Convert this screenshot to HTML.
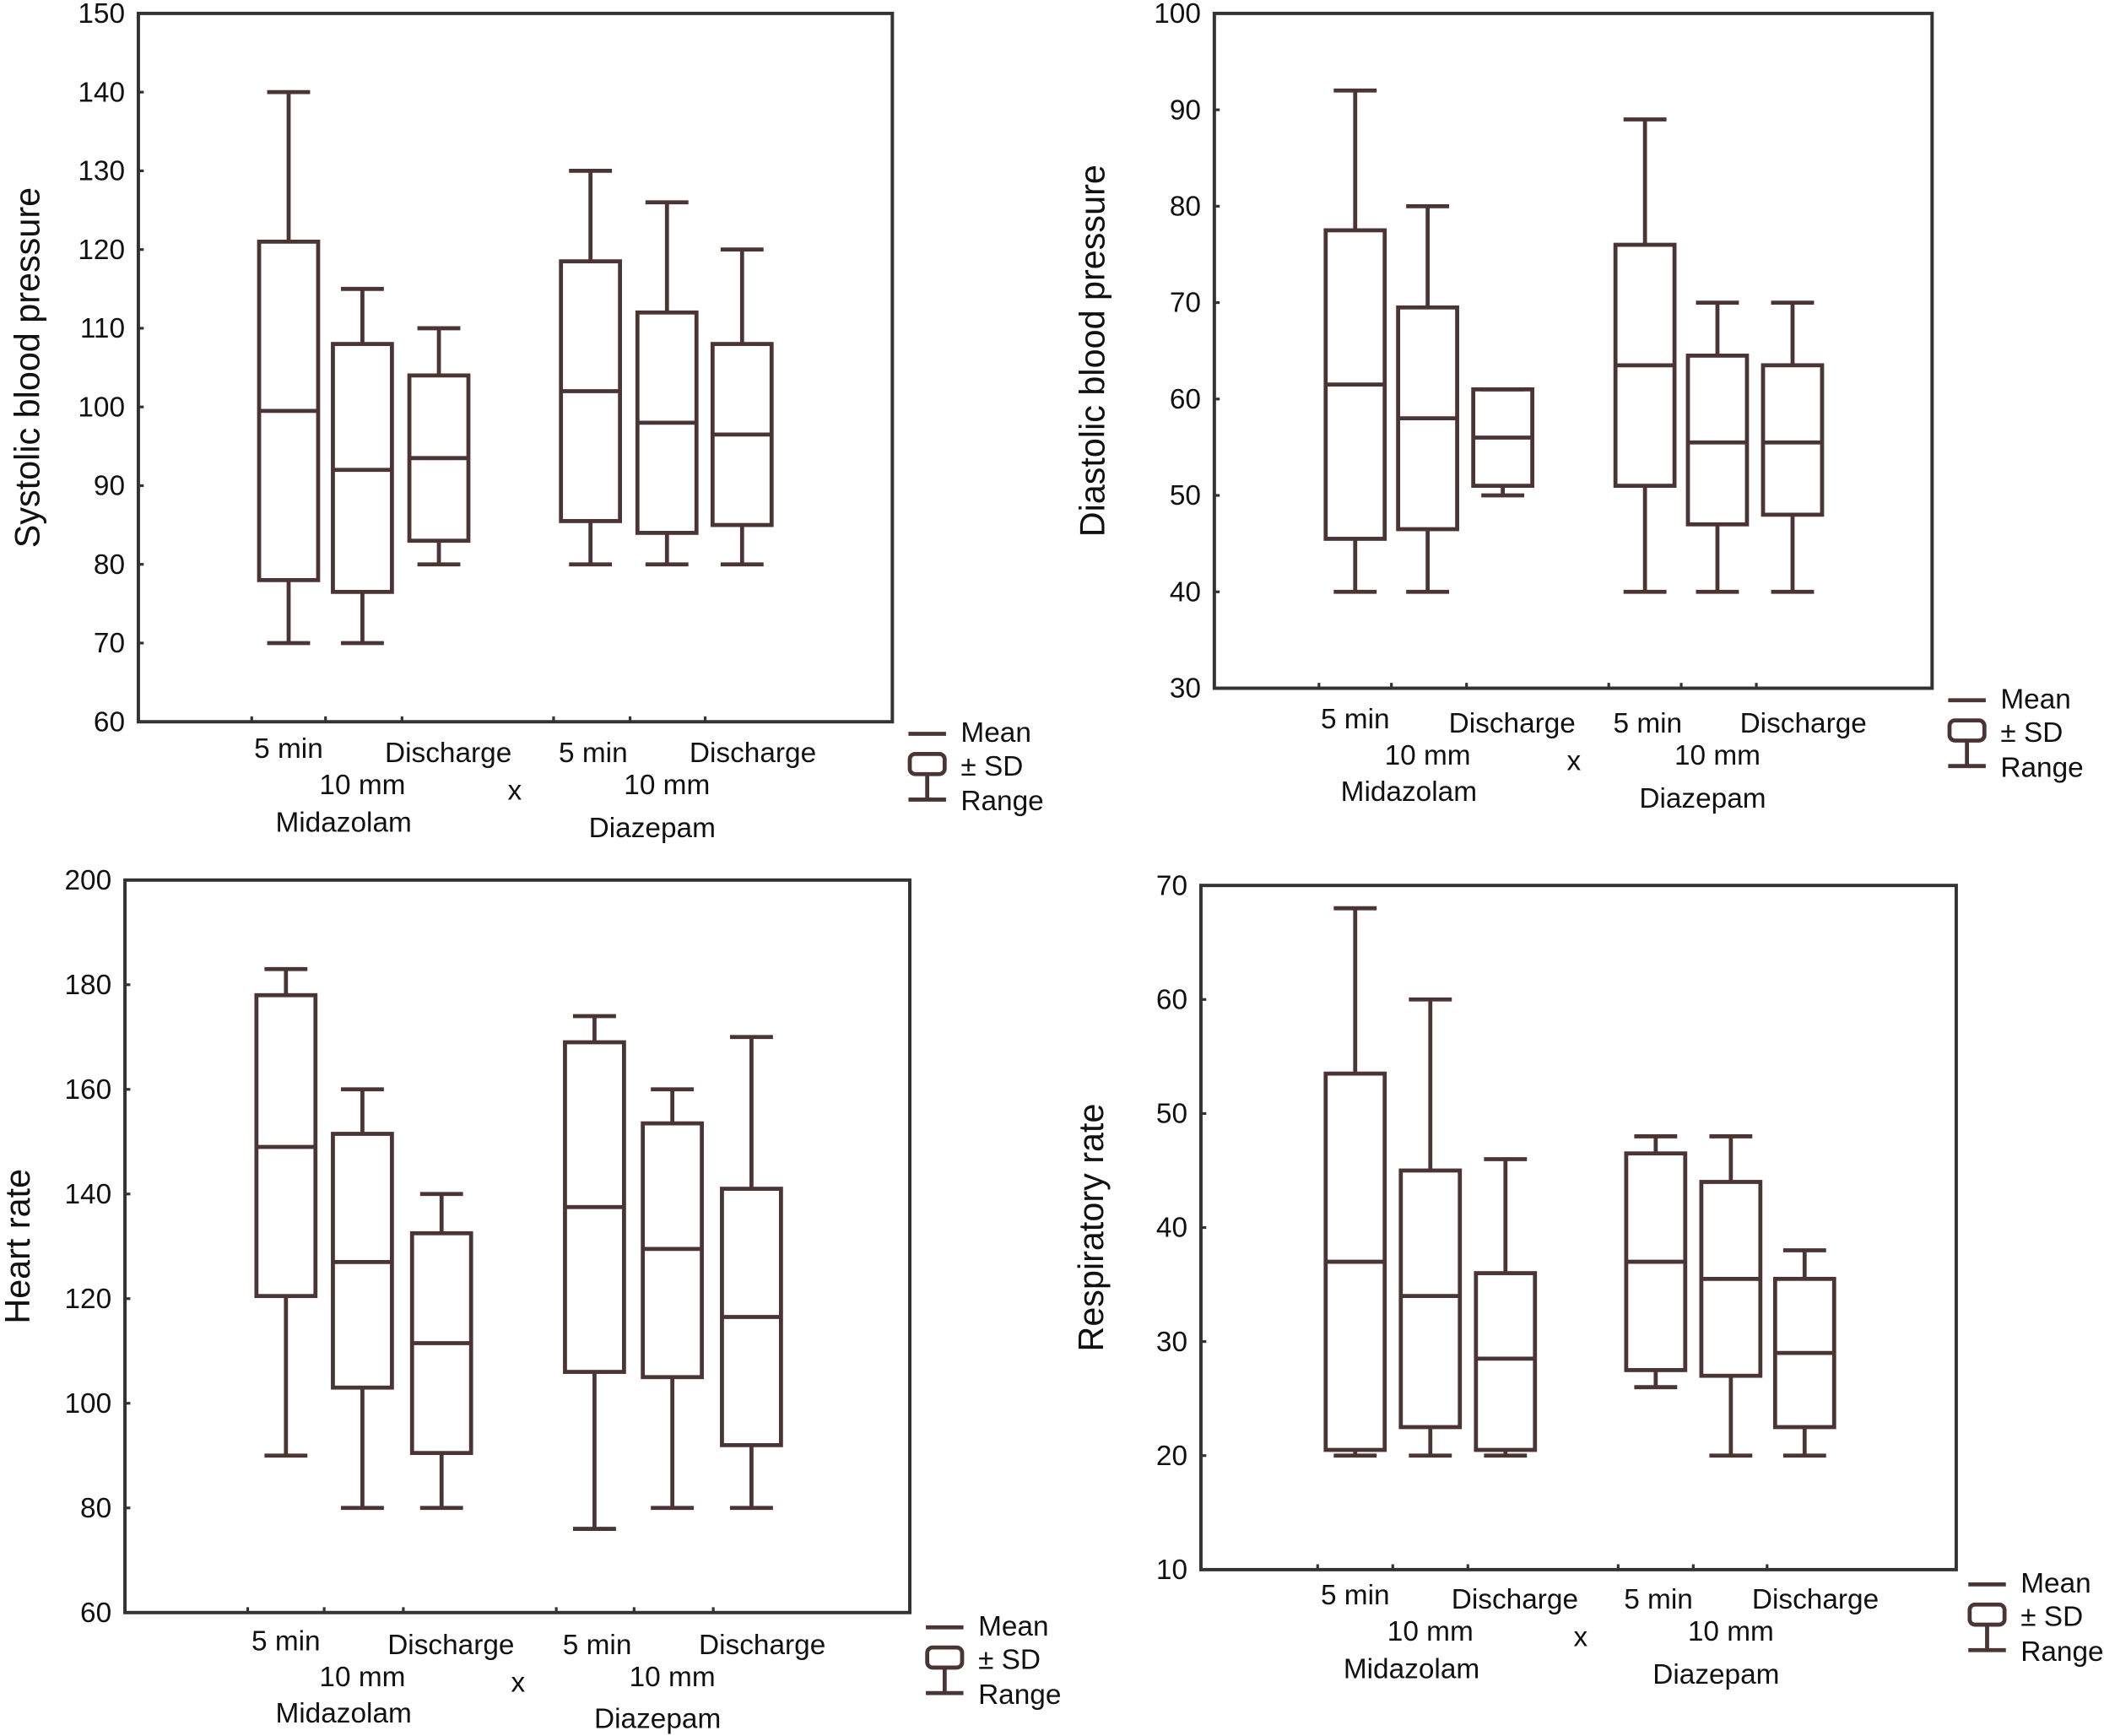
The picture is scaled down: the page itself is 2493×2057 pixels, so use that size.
<!DOCTYPE html>
<html><head><meta charset="utf-8"><style>
html,body{margin:0;padding:0;background:#fff}
svg{display:block}
text{font-family:"Liberation Sans",sans-serif;fill:#111}
</style></head><body>
<svg id="chart" width="2493" height="2057" viewBox="0 0 1568 1294" xmlns="http://www.w3.org/2000/svg"></svg>
<script>
// Panel data: [min, max, sdLow, sdHigh, mean]
const categories = ["Midazolam 5 min","Midazolam 10 mm","Midazolam Discharge","Diazepam 5 min","Diazepam 10 mm","Diazepam Discharge"];
const systolic = [[70,140,78,121,99.5],[70,115,76.5,108,92],[80,110,83,104,93.5],[80,130,85.5,118.5,102],[80,126,84,112,98],[80,120,85,108,96.5]];
const diastolic = [[40,92,45.5,77.5,61.5],[40,80,46.5,69.5,58],[50,61,51,61,56],[40,89,51,76,63.5],[40,70,47,64.5,55.5],[40,70,48,63.5,55.5]];
const heartRate = [[90,183,120.5,178,149],[80,160,103,151.5,127],[80,140,90.5,132.5,111.5],[76,174,106,169,137.5],[80,160,105,153.5,129.5],[80,170,92,141,116.5]];
const respRate = [[20,68,20.5,53.5,37],[20,60,22.5,45,34],[20,46,20.5,36,28.5],[26,48,27.5,46.5,37],[20,48,27,44,35.5],[20,38,22.5,35.5,29]];
const sysTicks = [60,70,80,90,100,110,120,130,140,150];
const diaTicks = [30,40,50,60,70,80,90,100];
const hrTicks = [60,80,100,120,140,160,180,200];
const rrTicks = [10,20,30,40,50,60,70];

const panels = [
 {name:"systolic",title:"Systolic blood pressure",data:systolic,ticks:sysTicks,x0:103,x1:665,y0:10,y1:538,titleX:20,xs:[215,270,327,440,497,553],lab:[558,585,613,617],legX:677,legY:546},
 {name:"diastolic",title:"Diastolic blood pressure",data:diastolic,ticks:diaTicks,x0:905,x1:1440,y0:10,y1:513,titleX:814,xs:[1010,1064,1120,1226,1280,1336],lab:[536,563,590,595],legX:1452,legY:521},
 {name:"heart-rate",title:"Heart rate",data:heartRate,ticks:hrTicks,x0:93,x1:678,y0:656,y1:1202,titleX:13,xs:[213,270,329,443,501,560],lab:[1223,1250,1277,1281],legX:690,legY:1212},
 {name:"respiratory-rate",title:"Respiratory rate",data:respRate,ticks:rrTicks,x0:895,x1:1458,y0:660,y1:1170,titleX:813,xs:[1010,1066,1122,1234,1290,1345],lab:[1189,1216,1244,1248],legX:1467,legY:1180}
];
const NS="http://www.w3.org/2000/svg";
const svg=document.getElementById('chart');
const COL="#4a3434";
function mk(tag,attrs,parent){const e=document.createElementNS(NS,tag);for(const k in attrs)e.setAttribute(k,attrs[k]);parent.appendChild(e);return e;}
panels.forEach(p=>{
  const g=mk('g',{},svg);
  
  
  const lo=p.ticks[0],hi=p.ticks[p.ticks.length-1];
  const y=v=>p.y1-(v-lo)/(hi-lo)*(p.y1-p.y0);
  const frame=mk('rect',{x:p.x0,y:p.y0,width:p.x1-p.x0,height:p.y1-p.y0,fill:'none',stroke:'#333','stroke-width':2.5},g);
  
  
  p.ticks.forEach(t=>{
    const tx=mk('text',{x:p.x0-10,y:y(t)+7,'text-anchor':'end','font-size':21},g);
    tx.textContent=t;
    
    
    mk('line',{x1:p.x0,x2:p.x0+4,y1:y(t),y2:y(t),stroke:'#333','stroke-width':2},g);
  });
  const step=(p.xs[1]-p.xs[0]);
  for(let i=0;i<p.xs.length;i++){mk('line',{x1:p.xs[i]-step/2,x2:p.xs[i]-step/2,y1:p.y1,y2:p.y1-4,stroke:'#333','stroke-width':2},g);}
  const yt=mk('text',{x:0,y:0,'text-anchor':'middle','font-size':26,transform:`translate(${p.titleX+9},${(p.y0+p.y1)/2}) rotate(-90)`},g);
  yt.textContent=p.title;
  
  
  p.data.forEach((d,i)=>{
    const cx=p.xs[i],hw=22,cw=16;
    const bg=mk('g',{stroke:COL,'stroke-width':3,fill:'none'},g);
    
    
    mk('line',{x1:cx,x2:cx,y1:y(d[0]),y2:y(d[2])},bg);
    mk('line',{x1:cx,x2:cx,y1:y(d[3]),y2:y(d[1])},bg);
    mk('line',{x1:cx-cw,x2:cx+cw,y1:y(d[0]),y2:y(d[0])},bg);
    mk('line',{x1:cx-cw,x2:cx+cw,y1:y(d[1]),y2:y(d[1])},bg);
    mk('rect',{x:cx-hw,y:y(d[3]),width:2*hw,height:y(d[2])-y(d[3])},bg);
    mk('line',{x1:cx-hw,x2:cx+hw,y1:y(d[4]),y2:y(d[4])},bg);
  });
  const L=p.lab,X=p.xs;
  const labs=[["5 min",X[0],L[0]],["Discharge",X[2]+7,L[0]+3],["10 mm",X[1],L[1]],["Midazolam",X[1]-14,L[2]],["x",(X[2]+X[3])/2,L[1]+4],["5 min",X[3]+2,L[0]+3],["Discharge",X[5]+8,L[0]+3],["10 mm",X[4],L[1]],["Diazepam",X[4]-11,L[3]]];
  labs.forEach(a=>{
    const t=mk('text',{x:a[1],y:a[2]+7,'text-anchor':'middle','font-size':21},g);
    t.textContent=a[0];
    
    
  });
  const lg=mk('g',{},g);
  
  
  const lx=p.legX,ly=p.legY;
  mk('line',{x1:lx,x2:lx+28,y1:ly+1,y2:ly+1,stroke:COL,'stroke-width':3},lg);
  mk('rect',{x:lx+1,y:ly+16,width:26,height:15,rx:4,fill:'none',stroke:COL,'stroke-width':3},lg);
  mk('line',{x1:lx+14,x2:lx+14,y1:ly+31,y2:ly+50,stroke:COL,'stroke-width':3},lg);
  mk('line',{x1:lx,x2:lx+28,y1:ly+50,y2:ly+50,stroke:COL,'stroke-width':3},lg);
  [["Mean",0],["± SD",25],["Range",51]].forEach(a=>{
    const t=mk('text',{x:lx+39,y:ly+7+a[1],'font-size':21},lg);
    t.textContent=a[0];
    
    
  });
});
</script>
</body></html>
